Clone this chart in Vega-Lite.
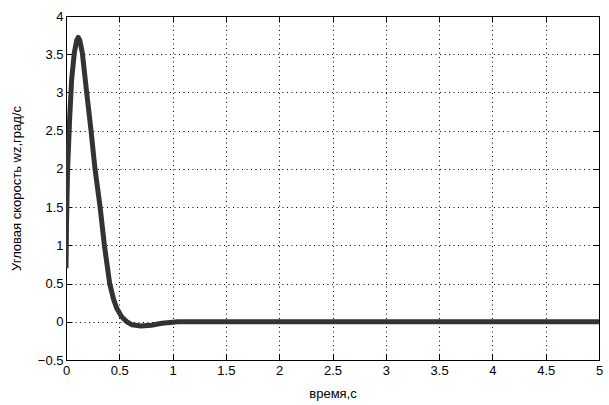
{
  "$schema": "https://vega.github.io/schema/vega-lite/v6.json",
  "width": 533,
  "height": 344,
  "autosize": {"type": "none"},
  "padding": {"left": 66, "top": 16, "right": 10, "bottom": 45},
  "background": "white",
  "config": {
    "view": {"stroke": "black", "strokeWidth": 1},
    "font": "Liberation Sans",
    "axis": {
      "labelFont": "Liberation Sans",
      "labelFontSize": 13,
      "labelColor": "black",
      "titleFont": "Liberation Sans",
      "titleFontSize": 13,
      "titleFontWeight": "normal",
      "titleColor": "black",
      "domainColor": "black",
      "tickColor": "black",
      "gridColor": "black",
      "gridDash": [1, 3.5],
      "gridOpacity": 1,
      "gridWidth": 1
    }
  },
  "data": {
    "values": [
      {"t": 0, "v": 0.7},
      {"t": 0.005, "v": 1.3},
      {"t": 0.015, "v": 2.0},
      {"t": 0.035, "v": 2.68},
      {"t": 0.053, "v": 3.17},
      {"t": 0.078, "v": 3.52},
      {"t": 0.1, "v": 3.68},
      {"t": 0.115, "v": 3.72},
      {"t": 0.13, "v": 3.68},
      {"t": 0.153, "v": 3.52},
      {"t": 0.194, "v": 3.0},
      {"t": 0.235, "v": 2.5},
      {"t": 0.272, "v": 2.0},
      {"t": 0.32, "v": 1.5},
      {"t": 0.36, "v": 1.0},
      {"t": 0.41, "v": 0.5},
      {"t": 0.445, "v": 0.3},
      {"t": 0.475, "v": 0.18},
      {"t": 0.52, "v": 0.07},
      {"t": 0.57, "v": 0.0},
      {"t": 0.62, "v": -0.04},
      {"t": 0.7, "v": -0.055},
      {"t": 0.8, "v": -0.045},
      {"t": 0.9, "v": -0.02},
      {"t": 1.0, "v": -0.005},
      {"t": 1.05, "v": 0},
      {"t": 2, "v": 0},
      {"t": 3, "v": 0},
      {"t": 4, "v": 0},
      {"t": 5, "v": 0}
    ]
  },
  "layer": [
    {
      "mark": {"type": "line", "color": "#333333", "strokeWidth": 5, "strokeJoin": "round", "strokeCap": "butt", "clip": true},
      "encoding": {
        "x": {
          "field": "t", "type": "quantitative",
          "scale": {"domain": [0, 5], "nice": false, "zero": false},
          "axis": {
            "title": "время,с",
            "values": [0, 0.5, 1, 1.5, 2, 2.5, 3, 3.5, 4, 4.5, 5],
            "format": "~g",
            "tickSize": -6,
            "labelPadding": 10,
            "titlePadding": 10,
            "grid": true,
            "labelFlush": false
          }
        },
        "y": {
          "field": "v", "type": "quantitative",
          "scale": {"domain": [-0.5, 4], "nice": false, "zero": false},
          "axis": {
            "title": "Угловая скорость wz,град/с",
            "values": [-0.5, 0, 0.5, 1, 1.5, 2, 2.5, 3, 3.5, 4],
            "format": "~g",
            "tickSize": -6,
            "labelPadding": 9,
            "titlePadding": 14,
            "grid": true,
            "labelFlush": false
          }
        }
      }
    },
    {
      "mark": {"type": "point", "opacity": 0},
      "encoding": {
        "x": {
          "field": "t", "type": "quantitative",
          "scale": {"domain": [0, 5], "nice": false, "zero": false},
          "axis": {"orient": "top", "title": null, "labels": false, "grid": false, "tickSize": -6,
                   "values": [0, 0.5, 1, 1.5, 2, 2.5, 3, 3.5, 4, 4.5, 5]}
        },
        "y": {
          "field": "v", "type": "quantitative",
          "scale": {"domain": [-0.5, 4], "nice": false, "zero": false},
          "axis": {"orient": "right", "title": null, "labels": false, "grid": false, "tickSize": -6,
                   "values": [-0.5, 0, 0.5, 1, 1.5, 2, 2.5, 3, 3.5, 4]}
        }
      }
    }
  ],
  "resolve": {"axis": {"x": "independent", "y": "independent"}}
}
